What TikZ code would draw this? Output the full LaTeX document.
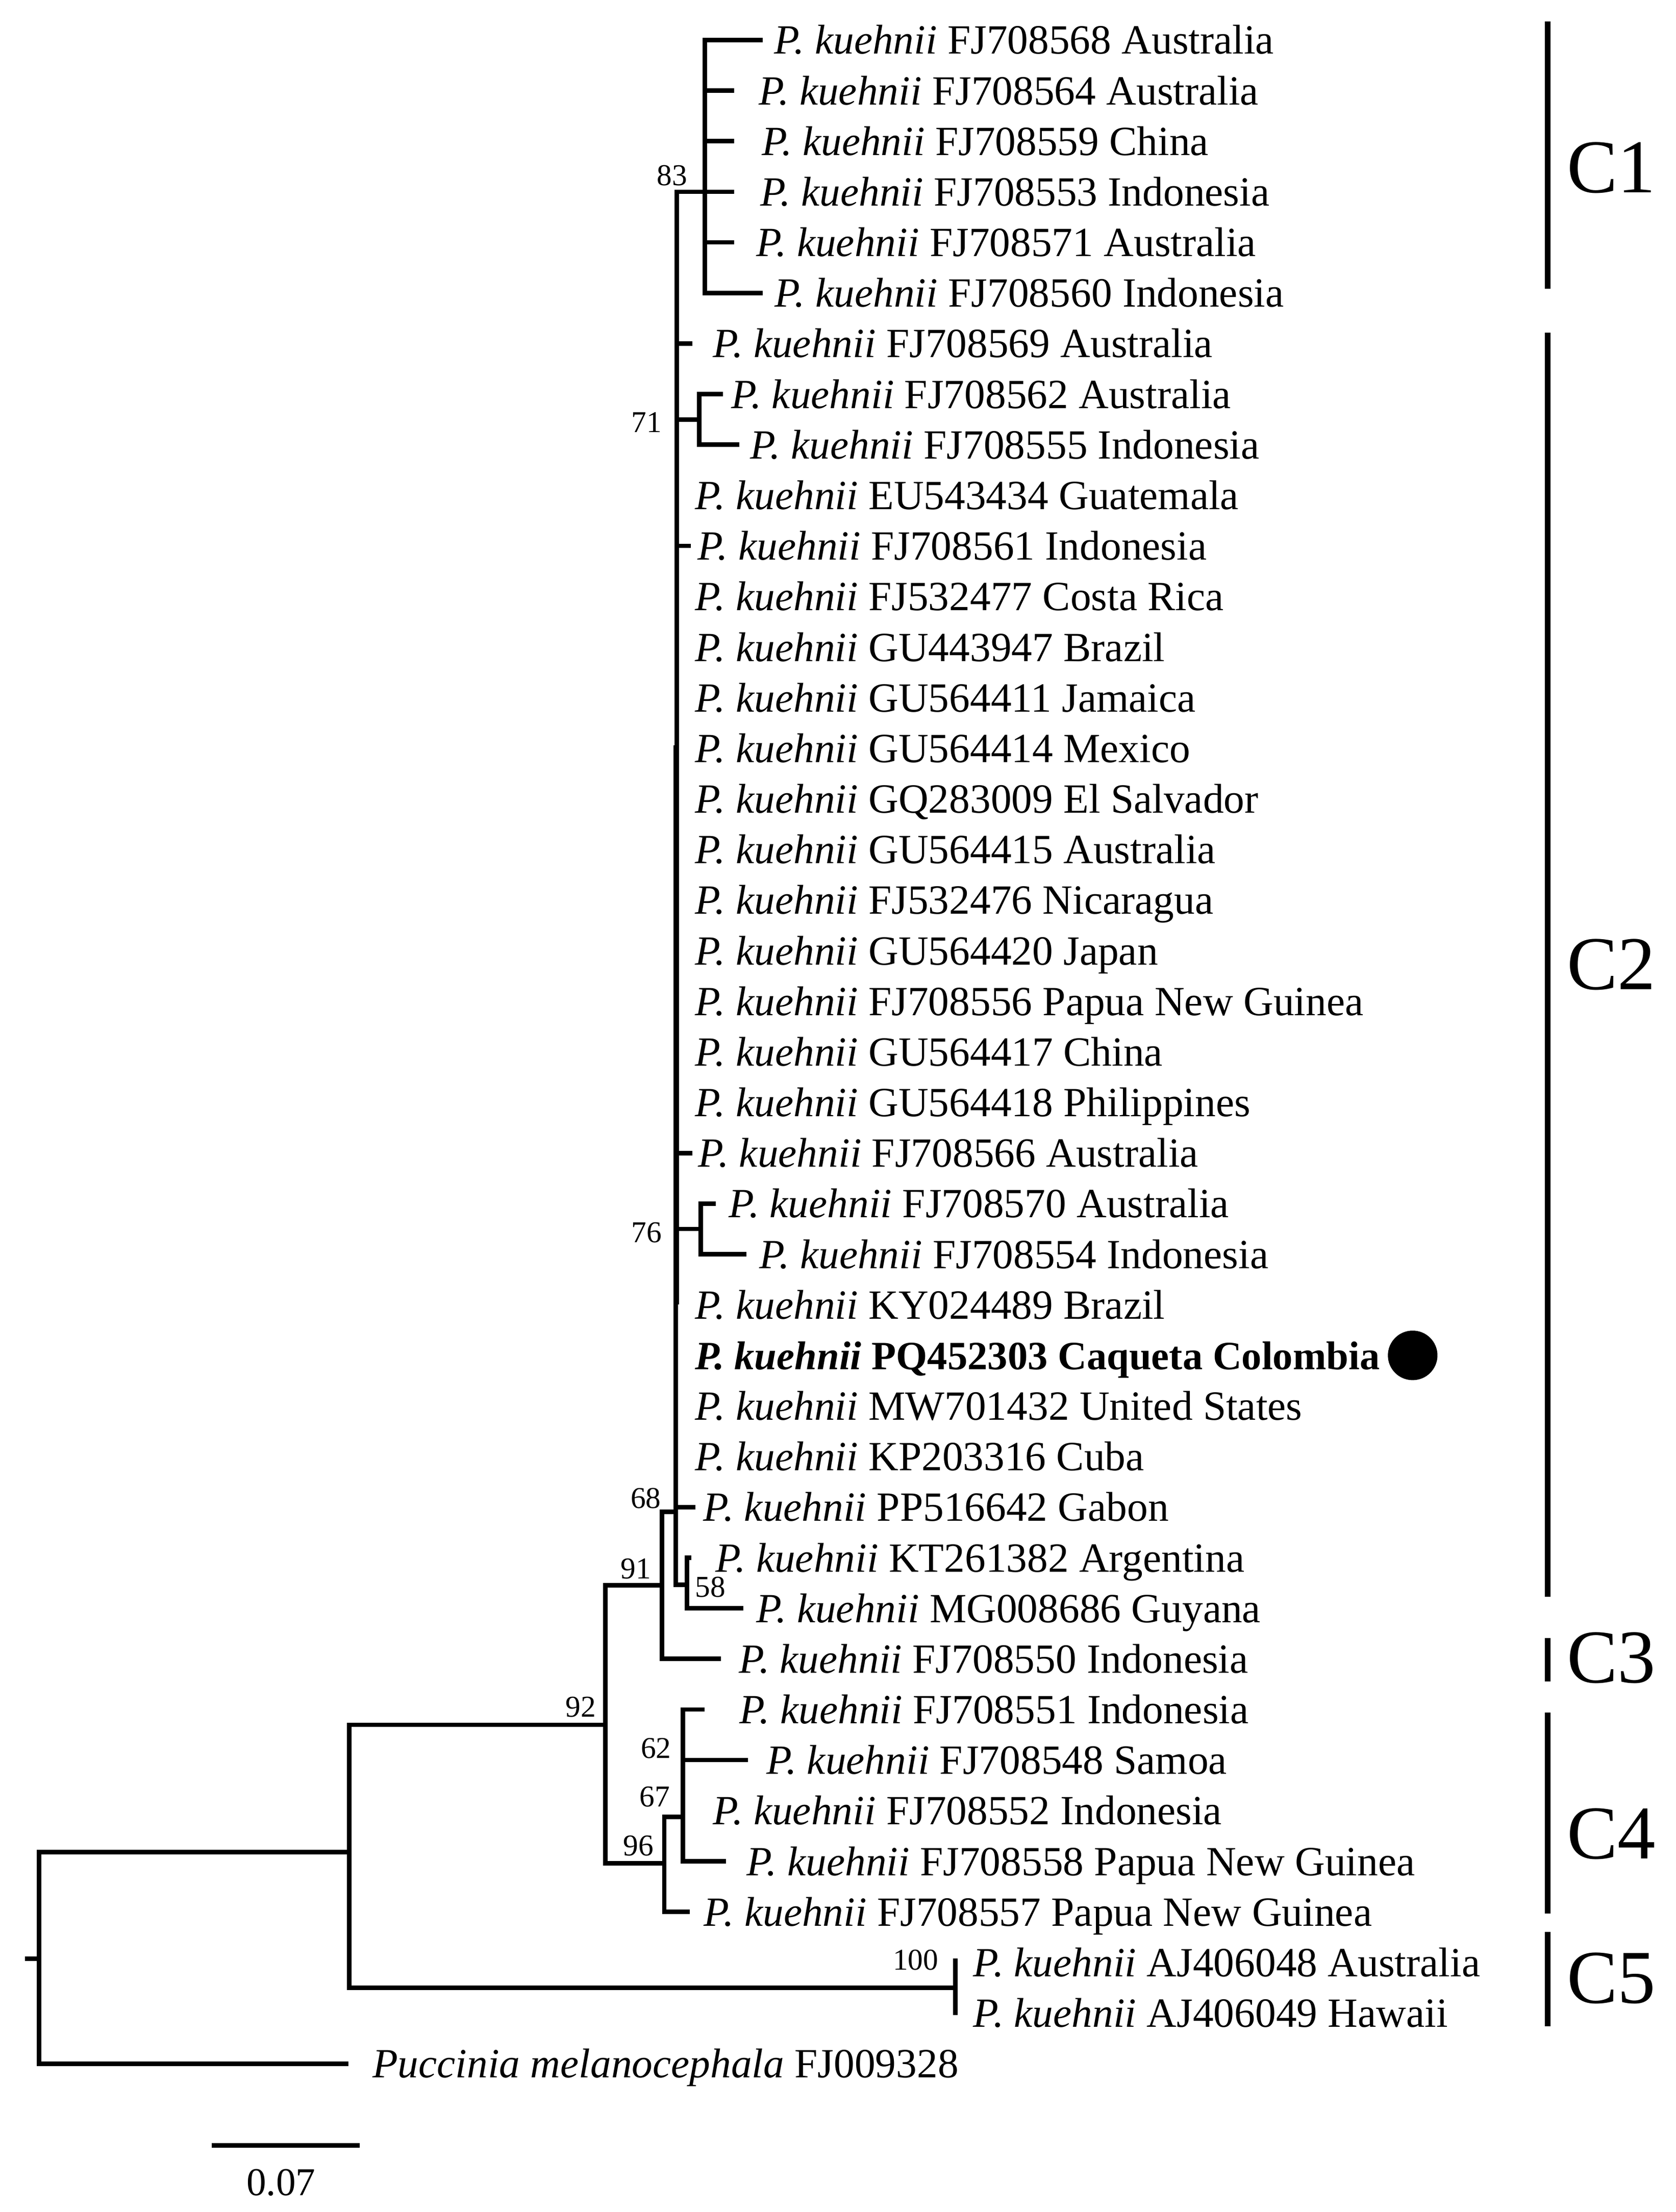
\documentclass[tikz,border=0pt]{standalone}
\usepackage{fontspec}
\setmainfont{Liberation Serif}
\newcommand{\pkn}{\textit{P. kuehnii}}
\begin{document}
\begin{tikzpicture}[x=1pt,y=-1pt,
  br/.style={line width=3.2pt, line join=miter, line cap=butt},
  taxon/.style={anchor=base west, inner sep=0pt, font=\fontsize{29.5}{32}\selectfont},
  boot/.style={anchor=east, inner sep=0pt, font=\fontsize{21.5}{24}\selectfont},
  clade/.style={anchor=west, inner sep=0pt, font=\fontsize{54}{60}\selectfont},
  bar/.style={line width=4pt, line cap=butt}]
\fill[white] (0,0) rectangle (1190.2,1571);
\useasboundingbox (0,0) rectangle (1190.2,1571);
% ---- tree coordinates
\coordinate (root) at (27.7,1391);
\coordinate (stub) at (17.6,1391);
\coordinate (nA) at (248,1315.4);
\coordinate (t41) at (247.5,1465.6);
\coordinate (n92) at (430,1225);
\coordinate (nC5) at (678.4,1411.6);
\coordinate (t39) at (678.4,1391);
\coordinate (t40) at (678.4,1431);
\coordinate (n91) at (470,1126);
\coordinate (n96) at (471.7,1323.4);
\coordinate (n68) at (479.9,1073.8);
\coordinate (t33) at (511.8,1178.2);
\coordinate (X) at (480.7,531);
\coordinate (t30) at (494,1070.4);
\coordinate (n58) at (488,1125.6);
\coordinate (t31) at (491,1106.3);
\coordinate (t32) at (528,1142.2);
\coordinate (c1) at (500.6,136.2);
\coordinate (t1) at (541.7,28.4);
\coordinate (t2) at (521.4,64.3);
\coordinate (t3) at (521.4,100.3);
\coordinate (t4) at (521.4,136.2);
\coordinate (t5) at (521.4,172.1);
\coordinate (t6) at (541.7,208.1);
\coordinate (t7) at (491.5,244.0);
\coordinate (n71) at (496.6,297.9);
\coordinate (t8) at (513.3,279.9);
\coordinate (t9) at (525,315.8);
\coordinate (t11) at (490.6,387.7);
\coordinate (t23) at (491.7,818.9);
\coordinate (n76) at (497.6,872.8);
\coordinate (t24) at (508.5,854.8);
\coordinate (t25) at (530.2,890.7);
\coordinate (t26) at (480.7,926.6);
\coordinate (n67) at (485.1,1290.5);
\coordinate (t34) at (500.2,1214.1);
\coordinate (t35) at (531.2,1250.0);
\coordinate (t37) at (515.5,1321.9);
\coordinate (t38) at (490,1357.8);
% ---- branches
\draw[br] (stub) -- (root);
\draw[br] (root) |- (nA);
\draw[br] (root) |- (t41);
\draw[br] (nA) |- (n92);
\draw[br] (nA) |- (nC5);
\draw[br] (nC5) -- (t39);
\draw[br] (nC5) -- (t40);
\draw[br] (n92) |- (n91);
\draw[br] (n92) |- (n96);
\draw[br] (n91) |- (n68);
\draw[br] (n91) |- (t33);
\draw[br] (n68) |- (X);
\draw[br] (n68) |- (t30);
\draw[br] (n68) |- (n58);
\draw[br] (n58) |- (t31);
\draw[br] (n58) |- (t32);
\draw[br] (X) |- (c1);
\draw[br] (X) |- (t7);
\draw[br] (X) |- (n71);
\draw[br] (X) |- (t11);
\draw[br] (X) |- (t23);
\draw[br] (X) |- (n76);
\draw[br] (X) -- (t26);
\draw[br] (c1) |- (t1);
\draw[br] (c1) |- (t2);
\draw[br] (c1) |- (t3);
\draw[br] (c1) -- (t4);
\draw[br] (c1) |- (t5);
\draw[br] (c1) |- (t6);
\draw[br] (n71) |- (t8);
\draw[br] (n71) |- (t9);
\draw[br] (n76) |- (t24);
\draw[br] (n76) |- (t25);
\draw[br] (n96) |- (n67);
\draw[br] (n96) |- (t38);
\draw[br] (n67) |- (t34);
\draw[br] (n67) |- (t35);
\draw[br] (n67) |- (t37);
% ---- taxon labels
\foreach \n/\lx/\txt in {
 1/549.5/{FJ708568 Australia},
 2/538.6/{FJ708564 Australia},
 3/540.8/{FJ708559 China},
 4/539.8/{FJ708553 Indonesia},
 5/536.8/{FJ708571 Australia},
 6/550.0/{FJ708560 Indonesia},
 7/506.0/{FJ708569 Australia},
 8/519.0/{FJ708562 Australia},
 9/532.6/{FJ708555 Indonesia},
 10/493.4/{EU543434 Guatemala},
 11/495.2/{FJ708561 Indonesia},
 12/493.4/{FJ532477 Costa Rica},
 13/493.4/{GU443947 Brazil},
 14/493.4/{GU564411 Jamaica},
 15/493.4/{GU564414 Mexico},
 16/493.4/{GQ283009 El Salvador},
 17/493.4/{GU564415 Australia},
 18/493.4/{FJ532476 Nicaragua},
 19/493.4/{GU564420 Japan},
 20/493.4/{FJ708556 Papua New Guinea},
 21/493.4/{GU564417 China},
 22/493.4/{GU564418 Philippines},
 23/495.8/{FJ708566 Australia},
 24/517.5/{FJ708570 Australia},
 25/539.0/{FJ708554 Indonesia},
 26/493.4/{KY024489 Brazil},
 28/493.4/{MW701432 United States},
 29/493.4/{KP203316 Cuba},
 30/499.4/{PP516642 Gabon},
 31/507.8/{KT261382 Argentina},
 32/536.8/{MG008686 Guyana},
 33/524.7/{FJ708550 Indonesia},
 34/525.0/{FJ708551 Indonesia},
 35/544.0/{FJ708548 Samoa},
 36/506.0/{FJ708552 Indonesia},
 37/530.0/{FJ708558 Papua New Guinea},
 38/499.5/{FJ708557 Papua New Guinea},
 39/691.0/{AJ406048 Australia},
 40/691.0/{AJ406049 Hawaii}}
 \node[taxon] (l\n) at (\lx,{28.4+35.93*(\n-1)+10}) {\pkn\ \txt};
\node[taxon, font=\fontsize{28.5}{32}\selectfont] (l27) at (493.4,972.6) {\textbf{\textit{P. kuehnii}} \textbf{PQ452303 Caqueta Colombia}};
\node[taxon] (l41) at (264.3,1475.6) {\textit{Puccinia melanocephala} FJ009328};
\node[circle, fill=black, inner sep=0pt, minimum size=35.2pt] (dot) at (1003.2,962.6) {};
% ---- bootstrap values
\node[boot] (b83) at (488.3,124.8) {83};
\node[boot] (b71) at (470.2,299.8) {71};
\node[boot] (b76) at (470.2,875.4) {76};
\node[boot] (b68) at (469.6,1064) {68};
\node[boot] (b91) at (462.4,1114) {91};
\node[boot, anchor=west] (b58) at (493.6,1127.2) {58};
\node[boot] (b92) at (423.5,1212.5) {92};
\node[boot] (b62) at (476.8,1241.7) {62};
\node[boot] (b67) at (476,1276) {67};
\node[boot] (b96) at (464.4,1311) {96};
\node[boot] (b100) at (666.5,1392) {100};
% ---- clade bars
\coordinate (c1a) at (1099,15.2);   \coordinate (c1b) at (1099,204.9);
\coordinate (c2a) at (1099,236.4);  \coordinate (c2b) at (1099,1134);
\coordinate (c3a) at (1099,1163.5); \coordinate (c3b) at (1099,1194.3);
\coordinate (c4a) at (1099,1216.4); \coordinate (c4b) at (1099,1359);
\coordinate (c5a) at (1099,1372);   \coordinate (c5b) at (1099,1439);
\draw[bar] (c1a) -- (c1b);
\draw[bar] (c2a) -- (c2b);
\draw[bar] (c3a) -- (c3b);
\draw[bar] (c4a) -- (c4b);
\draw[bar] (c5a) -- (c5b);
\node[clade] (C1) at (1112.5,119) {C1};
\node[clade] (C2) at (1112.5,685) {C2};
\node[clade] (C3) at (1112.5,1177.5) {C3};
\node[clade] (C4) at (1112.5,1302.6) {C4};
\node[clade] (C5) at (1112.5,1405) {C5};
% ---- scale bar
\coordinate (sb1) at (150.2,1523.7);
\coordinate (sb2) at (255.6,1523.7);
\draw[line width=3.6pt] (sb1) -- (sb2);
\node[inner sep=0pt, font=\fontsize{28}{30}\selectfont] (sbl) at (199.6,1550) {0.07};
\end{tikzpicture}
\end{document}
